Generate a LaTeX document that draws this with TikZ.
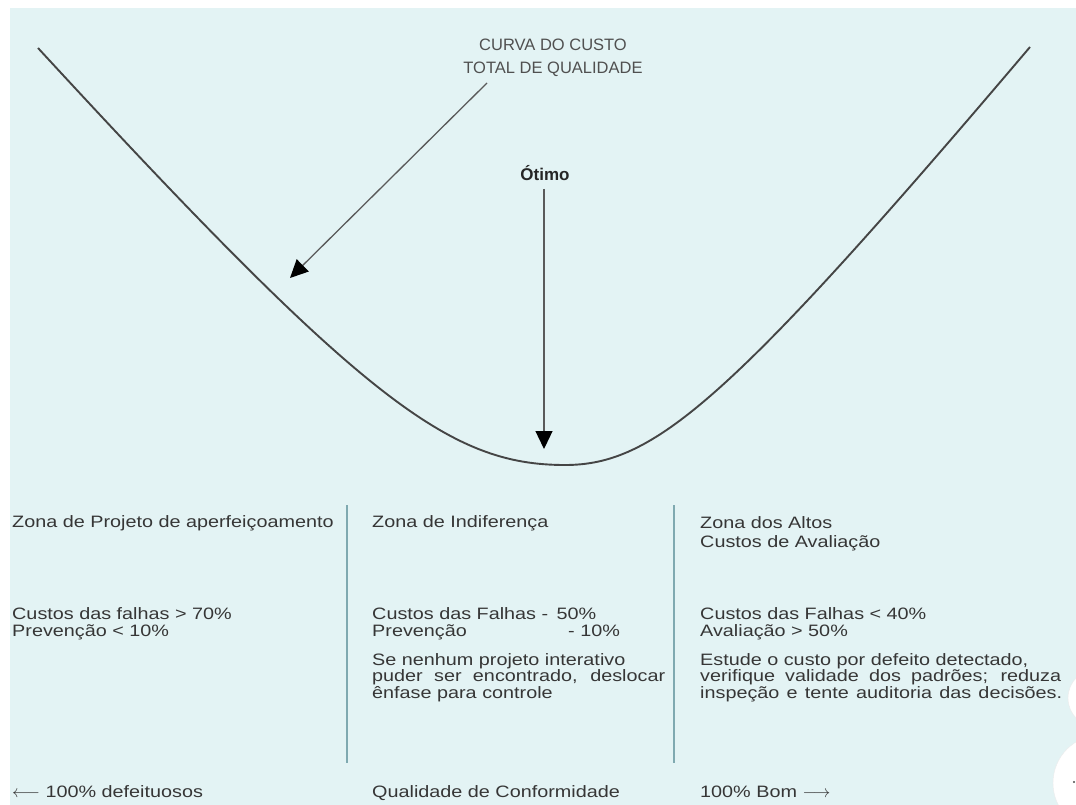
\documentclass[tikz,border=0pt]{standalone}
\usepackage{fontspec}
\setmainfont{Liberation Sans}[FakeStretch=1.2]
\newfontfamily\plainsans{Liberation Sans}
\usetikzlibrary{arrows.meta}
\definecolor{bgc}{HTML}{E3F3F4}
\definecolor{txt}{HTML}{363636}
\definecolor{curvec}{HTML}{454545}
\definecolor{arrc}{HTML}{5A5A5A}
\definecolor{divc}{HTML}{7FA9B0}
\definecolor{lbl}{HTML}{505050}
\begin{document}
\begin{tikzpicture}[x=1pt,y=-1pt,
  body/.style={font=\fontsize{16.5}{16.5}\selectfont, text=txt, inner sep=0pt, anchor=base west, align=left},
  divider/.style={draw=divc, line width=2pt},
  pointer/.style={draw=arrc, line width=1.3pt, -{Triangle[length=18pt,width=17pt,color=black]}},
  costcurve/.style={draw=curvec, line width=1.9pt}
]
\useasboundingbox (0,0) rectangle (1076,805);
\fill[white] (0,0) rectangle (1076,805);
\fill[bgc] (10,8) rectangle (1076,805);

% cost curve
\draw[costcurve] (38,48) .. controls (364,402) and (450,465) .. (565,465)
                         .. controls (654,465) and (729,402) .. (1030,47);

% top label and pointer (base anchor = baseline of last line)
\node[font=\plainsans\fontsize{16.5}{23}\selectfont, text=lbl, inner sep=0pt, align=center, anchor=base] (curvelabel) at (553,74) {CURVA DO CUSTO\\TOTAL DE QUALIDADE};
\coordinate (curvept) at (290,278);
\coordinate (labelfoot) at (487,83);
\draw[pointer] (labelfoot) -- (curvept);

% optimum label and pointer
\node[font=\plainsans\bfseries\fontsize{17}{17}\selectfont, text=black!85, inner sep=0pt] (otimo) at (545,173) {Ótimo};
\coordinate (otimostart) at (544,189);
\coordinate (otimotip) at (544,449);
\draw[pointer] (otimostart) -- (otimotip);

% dividers
\coordinate (d1top) at (347,505);
\coordinate (d1bot) at (347,763);
\coordinate (d2top) at (674,505);
\coordinate (d2bot) at (674,763);
\draw[divider] (d1top) -- (d1bot);
\draw[divider] (d2top) -- (d2bot);

% column 1
\node[body] (z1) at (12,527) {Zona de Projeto de aperfeiçoamento};
\node[body] (c1) at (12,636) {Custos das falhas > 70\%\\Prevenção < 10\%};

% column 2
\node[body] (z2) at (372,527) {Zona de Indiferença};
\node[body] (c2) at (372,636) {Custos das Falhas -\hspace{0.5em}50\%\\\makebox[196pt][l]{Prevenção}- 10\%};
\node[body] (p2) at (372,698) {Se nenhum projeto interativo\\\makebox[293pt][s]{puder ser encontrado, deslocar}\\ênfase para controle};

% column 3
\node[body, font=\fontsize{16.5}{19}\selectfont] (z3) at (700,547) {Zona dos Altos\\Custos de Avaliação};
\node[body] (c3) at (700,636) {Custos das Falhas < 40\%\\Avaliação > 50\%};
\node[body] (p3) at (700,698) {Estude o custo por defeito detectado,\\\makebox[361pt][s]{verifique validade dos padrões; reduza}\\\makebox[362pt][s]{inspeção e tente auditoria das decisões.}};

% bottom axis labels
\node[body] (left) at (12,797) {$\longleftarrow$ 100\% defeituosos};
\node[body] (mid) at (372,797) {Qualidade de Conformidade};
\node[body] (right) at (700,797) {100\% Bom $\longrightarrow$};

% screen overlay buttons at the right edge
\begin{scope}
\clip (0,0) rectangle (1076,805);
\fill[white, draw=black!8] (1097,698) circle (29);
\fill[white, draw=black!8] (1101,783) circle (48);
\fill[black!70] (1074,782) circle (1.2);
\end{scope}
\end{tikzpicture}
\end{document}
